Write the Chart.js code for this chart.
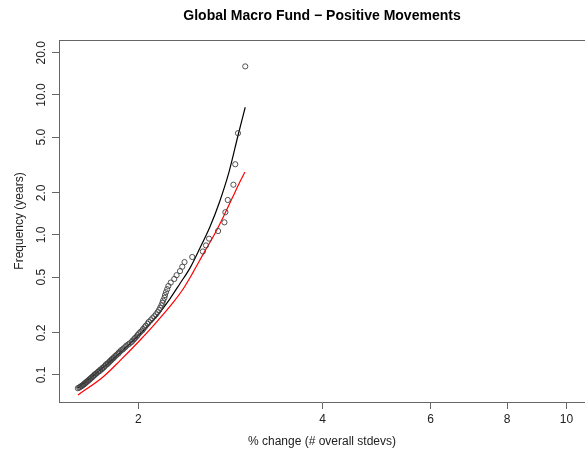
<!DOCTYPE html>
<html>
<head>
<meta charset="utf-8">
<script src="https://cdn.jsdelivr.net/npm/chart.js@4.4.1/dist/chart.umd.min.js"></script>
<style>
  body { margin: 0; background: #fff; }
  canvas { display: block; }
</style>
</head>
<body>
<canvas id="grafico" width="585" height="451"></canvas>
<script>
// empirical positive moves (x in # overall stdevs, frequency in years)
const moveX = [2.99, 2.91, 2.88, 2.86, 2.80, 2.775, 2.765, 2.70, 2.61, 2.58,
  2.55, 2.45, 2.38, 2.36, 2.34, 2.31, 2.29, 2.26, 2.24, 2.23,
  2.22, 2.212, 2.207, 2.196, 2.19, 2.182, 2.172, 2.163, 2.151, 2.138,
  2.124, 2.109, 2.096, 2.080, 2.072, 2.058, 2.049, 2.037, 2.030, 2.017,
  2.006, 1.996, 1.988, 1.977, 1.969, 1.958, 1.951, 1.936, 1.926, 1.913,
  1.905, 1.893, 1.887, 1.875, 1.868, 1.858, 1.855, 1.843, 1.837, 1.826,
  1.823, 1.812, 1.809, 1.799, 1.796, 1.786, 1.783, 1.772, 1.770, 1.760,
  1.757, 1.747, 1.745, 1.734, 1.732, 1.722, 1.720, 1.710, 1.707, 1.698,
  1.696, 1.688, 1.686, 1.677, 1.675, 1.667, 1.665, 1.657, 1.655, 1.647,
  1.645, 1.637, 1.636, 1.628, 1.626, 1.618, 1.615, 1.606, 1.602, 1.594];
const moveFreq = [16, 5.333, 3.2, 2.286, 1.778, 1.455, 1.231, 1.067, 0.941, 0.842,
  0.762, 0.696, 0.64, 0.593, 0.552, 0.516, 0.485, 0.457, 0.432, 0.41,
  0.390, 0.372, 0.356, 0.340, 0.327, 0.314, 0.302, 0.291, 0.281, 0.271,
  0.262, 0.254, 0.246, 0.239, 0.232, 0.225, 0.219, 0.213, 0.208, 0.203,
  0.198, 0.193, 0.188, 0.184, 0.180, 0.176, 0.172, 0.168, 0.165, 0.162,
  0.158, 0.155, 0.152, 0.150, 0.147, 0.144, 0.142, 0.139, 0.137, 0.134,
  0.132, 0.130, 0.128, 0.126, 0.124, 0.122, 0.120, 0.119, 0.117, 0.115,
  0.113, 0.112, 0.110, 0.109, 0.107, 0.106, 0.105, 0.103, 0.102, 0.101,
  0.0994, 0.0982, 0.0970, 0.0958, 0.0947, 0.0936, 0.0925, 0.0914, 0.0904, 0.0894,
  0.0884, 0.0874, 0.0865, 0.0856, 0.0847, 0.0838, 0.0829, 0.0821, 0.0812, 0.0804];

// fitted curve (black)
const fitX = [1.594, 1.700, 1.866, 2.013, 2.143, 2.253, 2.340, 2.429, 2.520, 2.620, 2.712, 2.815, 2.912, 2.990];
const fitFreq = [0.0807, 0.101, 0.1436, 0.196, 0.262, 0.350, 0.450, 0.580, 0.800, 1.15, 1.70, 2.85, 5.20, 8.17];

// normal reference curve (red)
const normX = [1.595, 1.754, 1.866, 2.013, 2.130, 2.281, 2.369, 2.460, 2.560, 2.660, 2.755, 2.850, 2.931, 2.987];
const normFreq = [0.0720, 0.0972, 0.126, 0.177, 0.232, 0.330, 0.413, 0.545, 0.745, 1.00, 1.351, 1.85, 2.40, 2.82];

const xTicks = [2, 4, 6, 8, 10];
const yTicks = [0.1, 0.2, 0.5, 1, 2, 5, 10, 20];
const yTickLabels = ['0.1', '0.2', '0.5', '1.0', '2.0', '5.0', '10.0', '20.0'];

const fuente = '"Liberation Sans", Arial, Helvetica, sans-serif';

function pares(xs, ys) {
  return xs.map(function(x, i) { return { x: x, y: ys[i] }; });
}

// top frame line and vertical y tick labels (R style)
const marco = {
  id: 'marco',
  afterDraw(chart) {
    const ctx = chart.ctx;
    const area = chart.chartArea;
    const yScale = chart.scales.y;
    ctx.save();
    ctx.strokeStyle = '#666';
    ctx.lineWidth = 1;
    ctx.beginPath();
    ctx.moveTo(area.left, area.top + 0.5);
    ctx.lineTo(area.right, area.top + 0.5);
    ctx.stroke();

    ctx.fillStyle = '#222';
    ctx.font = '12px ' + fuente;
    ctx.textAlign = 'center';
    ctx.textBaseline = 'middle';
    yTicks.forEach(function(v, i) {
      const py = yScale.getPixelForValue(v);
      ctx.save();
      ctx.translate(42, py);
      ctx.rotate(-Math.PI / 2);
      ctx.fillText(yTickLabels[i], 0, 0);
      ctx.restore();
    });
    ctx.restore();
  }
};

const ctx = document.getElementById('grafico').getContext('2d');

new Chart(ctx, {
  type: 'scatter',
  data: {
    datasets: [
      {
        label: 'Movimientos',
        data: pares(moveX, moveFreq),
        pointStyle: 'circle',
        pointRadius: 2.6,
        borderWidth: 0.9,
        borderColor: '#404040',
        backgroundColor: 'rgba(0,0,0,0)',
        order: 1
      },
      {
        label: 'Ajuste',
        data: pares(fitX, fitFreq),
        showLine: true,
        pointRadius: 0,
        borderColor: '#000',
        borderWidth: 1.2,
        cubicInterpolationMode: 'monotone',
        order: 2
      },
      {
        label: 'Normal',
        data: pares(normX, normFreq),
        showLine: true,
        pointRadius: 0,
        borderColor: '#ff0000',
        borderWidth: 1.2,
        cubicInterpolationMode: 'monotone',
        order: 3
      }
    ]
  },
  options: {
    responsive: false,
    animation: false,
    layout: { padding: 0, autoPadding: false },
    plugins: {
      legend: { display: false },
      tooltip: { enabled: false },
      title: {
        display: true,
        fullSize: false,
        text: 'Global Macro Fund \u2212 Positive Movements',
        color: '#000',
        font: { family: fuente, size: 14, weight: 'bold' },
        padding: { top: 8, bottom: 15.2 }
      }
    },
    scales: {
      x: {
        type: 'logarithmic',
        min: 1.485,
        max: 10.72,
        afterBuildTicks: function(scale) {
          scale.ticks = xTicks.map(function(v) { return { value: v }; });
        },
        afterFit: function(scale) {
          scale.height = 49;
          scale.paddingLeft = 0;
          scale.paddingRight = 0;
        },
        ticks: {
          color: '#222',
          font: { family: fuente, size: 12 },
          padding: 3,
          maxRotation: 0,
          callback: function(v) { return String(v); }
        },
        grid: { drawOnChartArea: false, drawTicks: true, tickLength: 7, color: '#666' },
        border: { display: true, color: '#666', width: 1 },
        title: {
          display: true,
          text: '% change (# overall stdevs)',
          color: '#222',
          font: { family: fuente, size: 12 },
          padding: { top: 0, bottom: 1.8 }
        }
      },
      y: {
        type: 'logarithmic',
        min: 0.0641,
        max: 24.7,
        afterBuildTicks: function(scale) {
          scale.ticks = yTicks.map(function(v) { return { value: v }; });
        },
        afterFit: function(scale) {
          scale.width = 59;
          scale.paddingTop = 0;
          scale.paddingBottom = 0;
        },
        ticks: {
          callback: function() { return ''; }
        },
        grid: { drawOnChartArea: false, drawTicks: true, tickLength: 7, color: '#666' },
        border: { display: true, color: '#666', width: 1 },
        title: {
          display: true,
          text: 'Frequency (years)',
          color: '#222',
          font: { family: fuente, size: 12 },
          padding: { top: 12.8, bottom: 0 }
        }
      }
    }
  },
  plugins: [marco]
});
</script>
</body>
</html>
